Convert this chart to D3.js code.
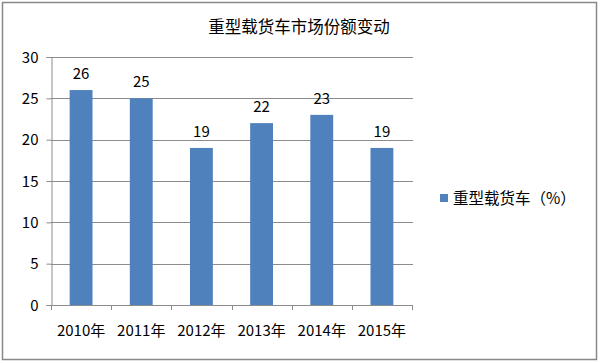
<!DOCTYPE html>
<html>
<head>
<meta charset="utf-8">
<script src="https://cdn.jsdelivr.net/npm/d3@7"></script>
<style>
  body { margin: 0; background: #fff; }
  text { font-family: "Noto Sans CJK SC", "DejaVu Sans", sans-serif; fill: #000; }
</style>
</head>
<body>
<svg id="chart" width="600" height="363"></svg>
<script>
var years = ["2010年", "2011年", "2012年", "2013年", "2014年", "2015年"];
var shares = [26, 25, 19, 22, 23, 19];
var yTicks = [0, 5, 10, 15, 20, 25, 30];
var title = "重型载货车市场份额变动";
var seriesName = "重型载货车（%）";

var svg = d3.select("#chart");

// outer frame
svg.append("rect")
    .attr("x", 2.5).attr("y", 2.5)
    .attr("width", 594).attr("height", 357)
    .attr("fill", "#fff")
    .attr("stroke", "#888").attr("stroke-width", 1.5);

var plotLeft = 51, plotRight = 412, plotTop = 57, plotBottom = 305;

var x = d3.scaleBand().domain(years).range([plotLeft, plotRight]).paddingInner(0.62).paddingOuter(0.31);
var y = d3.scaleLinear().domain([0, 30]).range([plotBottom, plotTop]);

// gridlines
svg.append("g")
    .selectAll("line")
    .data(yTicks.slice(1))
    .enter().append("line")
    .attr("x1", plotLeft).attr("x2", plotRight + 1)
    .attr("y1", function (d) { return Math.round(y(d)) + 0.5; })
    .attr("y2", function (d) { return Math.round(y(d)) + 0.5; })
    .attr("stroke", "#8c8c8c").attr("stroke-width", 1);

// bars
svg.append("g")
    .selectAll("rect")
    .data(shares)
    .enter().append("rect")
    .attr("x", function (d, i) { return x(years[i]); })
    .attr("y", function (d) { return y(d); })
    .attr("width", x.bandwidth())
    .attr("height", function (d) { return y(0) - y(d); })
    .attr("fill", "#4f81bd");

// value labels
svg.append("g")
    .selectAll("text")
    .data(shares)
    .enter().append("text")
    .attr("x", function (d, i) { return x(years[i]) + x.bandwidth() / 2; })
    .attr("y", function (d) { return y(d) - 11; })
    .attr("text-anchor", "middle")
    .style("font-size", "15px")
    .text(function (d) { return d; });

// y axis
var yAxis = d3.axisLeft(y).tickValues(yTicks).tickSize(5).tickPadding(8);
var gy = svg.append("g")
    .attr("transform", "translate(" + (plotLeft + 0.5) + ",0)")
    .call(yAxis);
gy.selectAll("text").style("font-size", "15px").attr("dy", "0.35em")
    .style("font-family", "\"Noto Sans CJK SC\", sans-serif").attr("fill", "#000");
gy.select(".domain").attr("stroke", "#8c8c8c");
gy.selectAll(".tick line").attr("stroke", "#8c8c8c");

// x axis
var xTickPos = d3.range(years.length + 1).map(function (i) { return plotLeft + i * x.step(); });
var gx = svg.append("g");
gx.append("line")
    .attr("x1", plotLeft).attr("x2", plotRight + 1)
    .attr("y1", plotBottom + 0.5).attr("y2", plotBottom + 0.5)
    .attr("stroke", "#8c8c8c");
gx.selectAll(".xt")
    .data(xTickPos)
    .enter().append("line")
    .attr("class", "xt")
    .attr("x1", function (d) { return Math.round(d) + 0.5; })
    .attr("x2", function (d) { return Math.round(d) + 0.5; })
    .attr("y1", plotBottom).attr("y2", plotBottom + 5)
    .attr("stroke", "#8c8c8c");
gx.selectAll("text")
    .data(years)
    .enter().append("text")
    .attr("x", function (d) { return x(d) + x.bandwidth() / 2; })
    .attr("y", 336)
    .attr("text-anchor", "middle")
    .style("font-size", "15px")
    .text(function (d) { return d; });

// title
svg.append("text")
    .attr("x", 299).attr("y", 33)
    .attr("text-anchor", "middle")
    .style("font-size", "16.5px")
    .text(title);

// legend
svg.append("rect")
    .attr("x", 440).attr("y", 194)
    .attr("width", 8).attr("height", 8)
    .attr("fill", "#4f81bd");
svg.append("text")
    .attr("x", 453).attr("y", 204)
    .style("font-size", "15.5px")
    .text(seriesName);
</script>
</body>
</html>
